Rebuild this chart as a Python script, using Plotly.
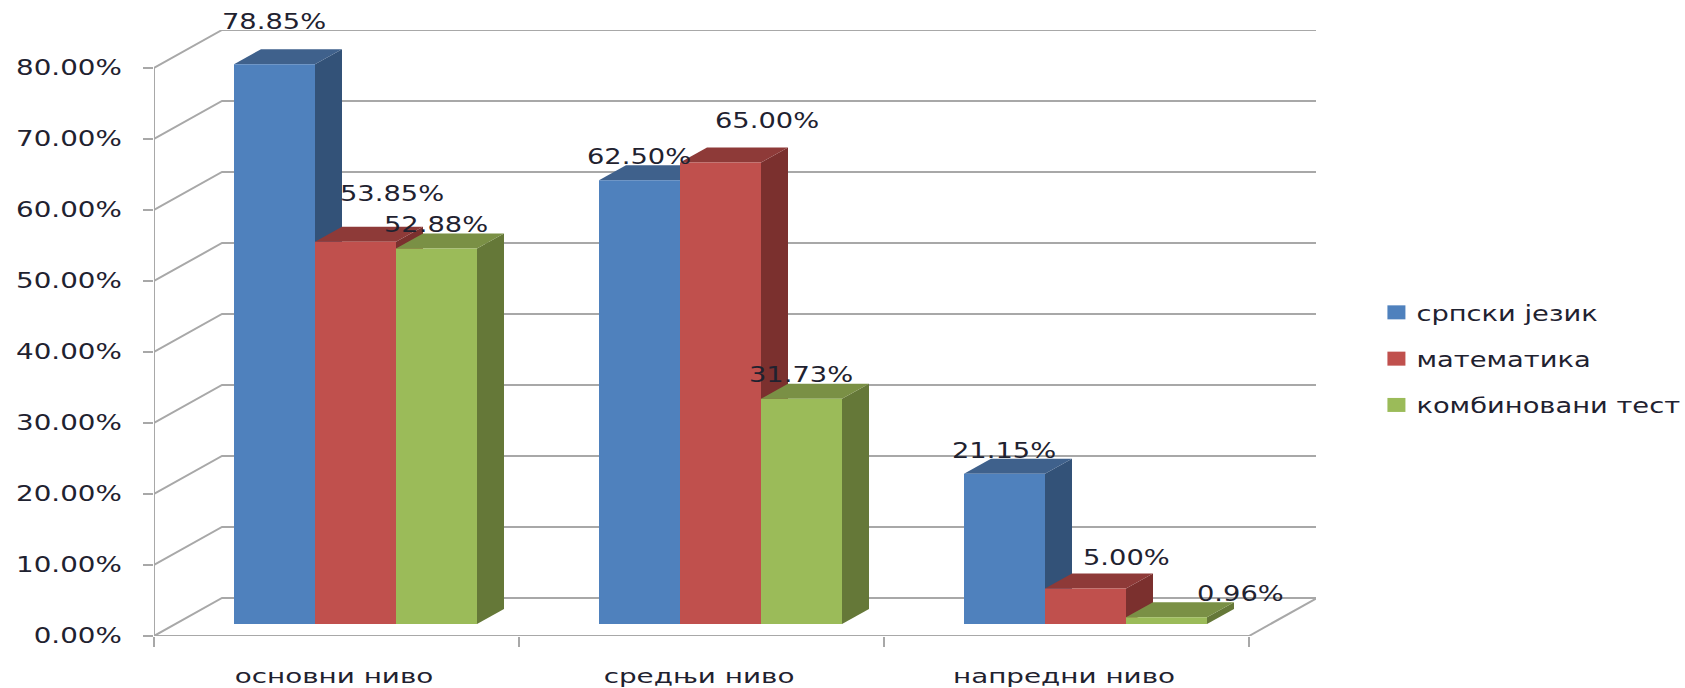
import plotly.graph_objects as go

categories = ["основни ниво", "средњи ниво", "напредни ниво"]
series_names = ["српски језик", "математика", "комбиновани тест"]
srpski = [78.85, 62.50, 21.15]
matematika = [53.85, 65.00, 5.00]
kombinovani = [52.88, 31.73, 0.96]
y_ticks = [0, 10, 20, 30, 40, 50, 60, 70, 80]

series = [srpski, matematika, kombinovani]
front = ["#4F81BD", "#C0504D", "#9BBB59"]
side = ["#335278", "#7B302E", "#657838"]
top = ["#3F618C", "#8E3A38", "#7A9045"]
label_off = [[(-1, 42), (36, 48), (-1, 24)],
             [(-1, 23), (46, 42), (-1, 24)],
             [(-1, 23), (41, 31), (74, 23)]]

W, H = 1685, 688
x0_px, x1_px = 154, 1316
y0_px, ytop_px = 636, 30
px_x = 365.0            # pixels per category
px_y = 7.1              # pixels per percent
wall_dx, wall_dy = 68 / px_x, 38 / px_y
bar_w = 81 / px_x
floor_dx, floor_dy = 19 / px_x, 12 / px_y
depth_dx, depth_dy = 27 / px_x, 15 / px_y
xr = [0, (x1_px - x0_px) / px_x]
yr = [0, (y0_px - ytop_px) / px_y]
GRID = "#A8A8A8"
TXT = "#1F2230"

fig = go.Figure()

def line(xs, ys, w=2):
    fig.add_trace(go.Scatter(x=xs, y=ys, mode="lines", line=dict(color=GRID, width=w),
                             showlegend=False, hoverinfo="skip", cliponaxis=False))

for v in y_ticks:
    line([0, wall_dx, 3 + wall_dx], [v, v + wall_dy, v + wall_dy])
line([3, 3 + wall_dx], [0, wall_dy])
line([0, 0], [0, 80])
line([0, 3], [0, 0])

# depth faces, left to right
for c in range(3):
    for s in range(3):
        v = series[s][c]
        l = c + 0.5 + (s - 1.5) * bar_w + floor_dx
        r = l + bar_w
        b = floor_dy
        t = b + v
        fig.add_trace(go.Scatter(x=[r, r + depth_dx, r + depth_dx, r, r],
                                 y=[b, b + depth_dy, t + depth_dy, t, b],
                                 mode="lines", fill="toself", fillcolor=side[s], line=dict(width=0, color=side[s]),
                                 showlegend=False, hoverinfo="skip"))
        fig.add_trace(go.Scatter(x=[l, r, r + depth_dx, l + depth_dx, l],
                                 y=[t, t, t + depth_dy, t + depth_dy, t],
                                 mode="lines", fill="toself", fillcolor=top[s], line=dict(width=0, color=top[s]),
                                 showlegend=False, hoverinfo="skip"))

# front faces on an overlay so they sit above the depth faces
for s in range(3):
    fig.add_trace(go.Bar(
        x=[c + 0.5 + (s - 1) * bar_w + floor_dx for c in range(3)],
        y=series[s], base=floor_dy, width=bar_w, name=series_names[s],
        marker=dict(color=front[s], line=dict(width=0)),
        xaxis="x2", yaxis="y2", legendgroup=series_names[s]))

for c in range(3):
    for s in range(3):
        dx, dy = label_off[c][s]
        fig.add_annotation(x=c + 0.5 + (s - 1) * bar_w + floor_dx, y=floor_dy + series[s][c],
                           text=f"{series[s][c]:.2f}%", showarrow=False, xanchor="center", yanchor="middle",
                           xshift=dx, yshift=dy, font=dict(family="DejaVu Sans", size=21, color=TXT))

fig.update_layout(
    width=W, height=H, paper_bgcolor="white", plot_bgcolor="white", barmode="overlay",
    margin=dict(l=x0_px, r=W - x1_px, t=ytop_px, b=H - y0_px, autoexpand=False),
    font=dict(family="DejaVu Sans", color=TXT),
    xaxis=dict(range=xr, tickmode="array", tickvals=[c + 0.5 - 2.5 / px_x for c in range(3)], ticktext=categories,
               ticks="", showgrid=False, zeroline=False, showline=False, tickfont=dict(size=20), ticklabelstandoff=26,
               minor=dict(tickmode="array", tickvals=[0, 1, 2, 3], ticks="outside", ticklen=10, tickwidth=2,
                          tickcolor=GRID, showgrid=False)),
    yaxis=dict(range=yr, tickmode="array", tickvals=y_ticks, ticktext=[f"{v:.2f}%" for v in y_ticks],
               ticks="outside", ticklen=10, tickwidth=2, tickcolor=GRID, showgrid=False, zeroline=False,
               showline=False, tickfont=dict(size=21), ticklabelstandoff=17),
    xaxis2=dict(range=xr, overlaying="x", visible=False),
    yaxis2=dict(range=yr, overlaying="y", visible=False),
    legend=dict(x=1.052, y=0.4576, xanchor="left", yanchor="middle", font=dict(size=21),
                tracegroupgap=16, bgcolor="rgba(0,0,0,0)", traceorder="grouped"),
    showlegend=True,
)

# The reference's lettering is stretched sideways by about 1.3; the texts stay real SVG text.
post = """
document.body.style.margin='0';document.body.style.overflow='hidden';
function stretchGroup(sel,f){
  document.querySelectorAll(sel).forEach(function(t){
    if(!t.dataset.st){t.dataset.st='1';
      t.setAttribute('textLength',t.getComputedTextLength()*f);
      t.setAttribute('lengthAdjust','spacingAndGlyphs');}
  });
}
function stretchText(){
  stretchGroup('.xtick text',1.39);
  stretchGroup('.ytick text',1.32);
  stretchGroup('.legendtext,.annotation-text',1.3);
  document.querySelectorAll('.legendpoints path').forEach(function(p){p.setAttribute('d','M9,7H-9V-7H9Z');});
  document.querySelectorAll('.legend,.legend .scrollbox').forEach(function(g){g.removeAttribute('clip-path');g.style.clipPath='none';});
}
stretchText();setTimeout(stretchText,50);setTimeout(stretchText,300);
"""
fig.write_html("out.html", post_script=post, config=dict(displayModeBar=False))
